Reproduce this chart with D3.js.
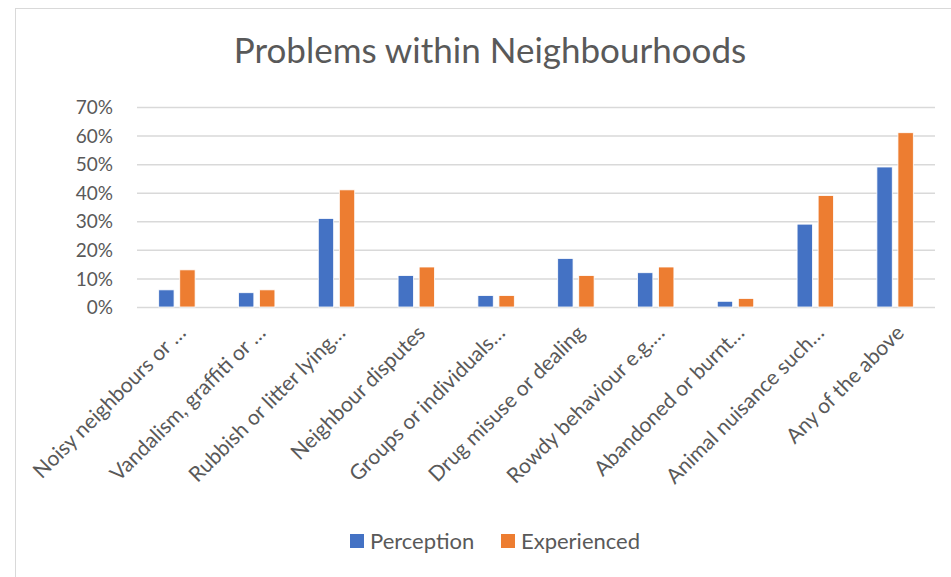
<!DOCTYPE html>
<html><head><meta charset="utf-8">
<script src="https://cdn.jsdelivr.net/npm/d3@7"></script>
<style>body{margin:0;background:#fff}svg{display:block}text{font-family:Lato,"Open Sans",sans-serif;fill:#595959}</style>
</head><body>
<svg id="c" width="951" height="577"></svg>
<script>
const categories = ["Noisy neighbours or …","Vandalism, graffiti or …","Rubbish or litter lying…","Neighbour disputes","Groups or individuals…","Drug misuse or dealing","Rowdy behaviour e.g.…","Abandoned or burnt…","Animal nuisance such…","Any of the above"];
const perception = [6,5,31,11,4,17,12,2,29,49];
const experienced = [13,6,41,14,4,11,14,3,39,61];
const seriesNames = ["Perception","Experienced"];
const colors = ["#4472C4","#ED7D31"];
const yTicks = [0,10,20,30,40,50,60,70];

(function(){
const svg = d3.select("#c");
svg.append("rect").attr("x",15.5).attr("y",8.5).attr("width",940).attr("height",580)
  .attr("fill","#fff").attr("stroke","#d9d9d9");

const pl=137,pr=935,pt=107,pb=307;
const x = d3.scaleBand().domain(categories).range([pl,pr]).paddingInner(0).paddingOuter(0);
const y = d3.scaleLinear().domain([0,70]).range([pb,pt]);
const xs = d3.scaleBand().domain(seriesNames).range([0,x.bandwidth()]).paddingInner(0.27).paddingOuter(1.03);

svg.append("text").attr("x",490).attr("y",63).attr("text-anchor","middle")
  .style("font-size","35px").text("Problems within Neighbourhoods");

const yAxis = svg.append("g").attr("transform",`translate(${pl},0)`)
  .call(d3.axisLeft(y).tickValues(yTicks).tickSize(-(pr-pl)).tickFormat(d=>d+"%"));
yAxis.select(".domain").remove();
yAxis.selectAll("line").attr("stroke","#d9d9d9").attr("stroke-width",1.5);
yAxis.selectAll("text").attr("x",-24).attr("dy","0.35em").style("font-size","19px").style("fill","#595959");

const data = [perception,experienced];
data.forEach((vals,si)=>{
  svg.append("g").selectAll("rect").data(vals).join("rect")
    .attr("x",(d,i)=>x(categories[i])+xs(seriesNames[si]))
    .attr("width",xs.bandwidth())
    .attr("y",d=>y(d)).attr("height",d=>y(0)-y(d))
    .attr("fill",colors[si]).attr("stroke","#fff").attr("stroke-width",0.8);
});

const xAxis = svg.append("g").attr("transform",`translate(0,${pb})`)
  .call(d3.axisBottom(x).tickSize(0));
xAxis.select(".domain").remove();
xAxis.selectAll("text")
  .style("font-size","21px").style("fill","#595959")
  .attr("text-anchor","end")
  .attr("transform","translate(5,22) rotate(-45)").attr("x",0).attr("y",0).attr("dy","0.35em");

const lg = svg.append("g");
const lx=[350,501];
seriesNames.forEach((s,i)=>{
  lg.append("rect").attr("x",lx[i]).attr("y",534).attr("width",14).attr("height",14).attr("fill",colors[i]);
  lg.append("text").attr("x",lx[i]+20).attr("y",549).style("font-size","22px").text(s);
});
})();
</script>
</body></html>
